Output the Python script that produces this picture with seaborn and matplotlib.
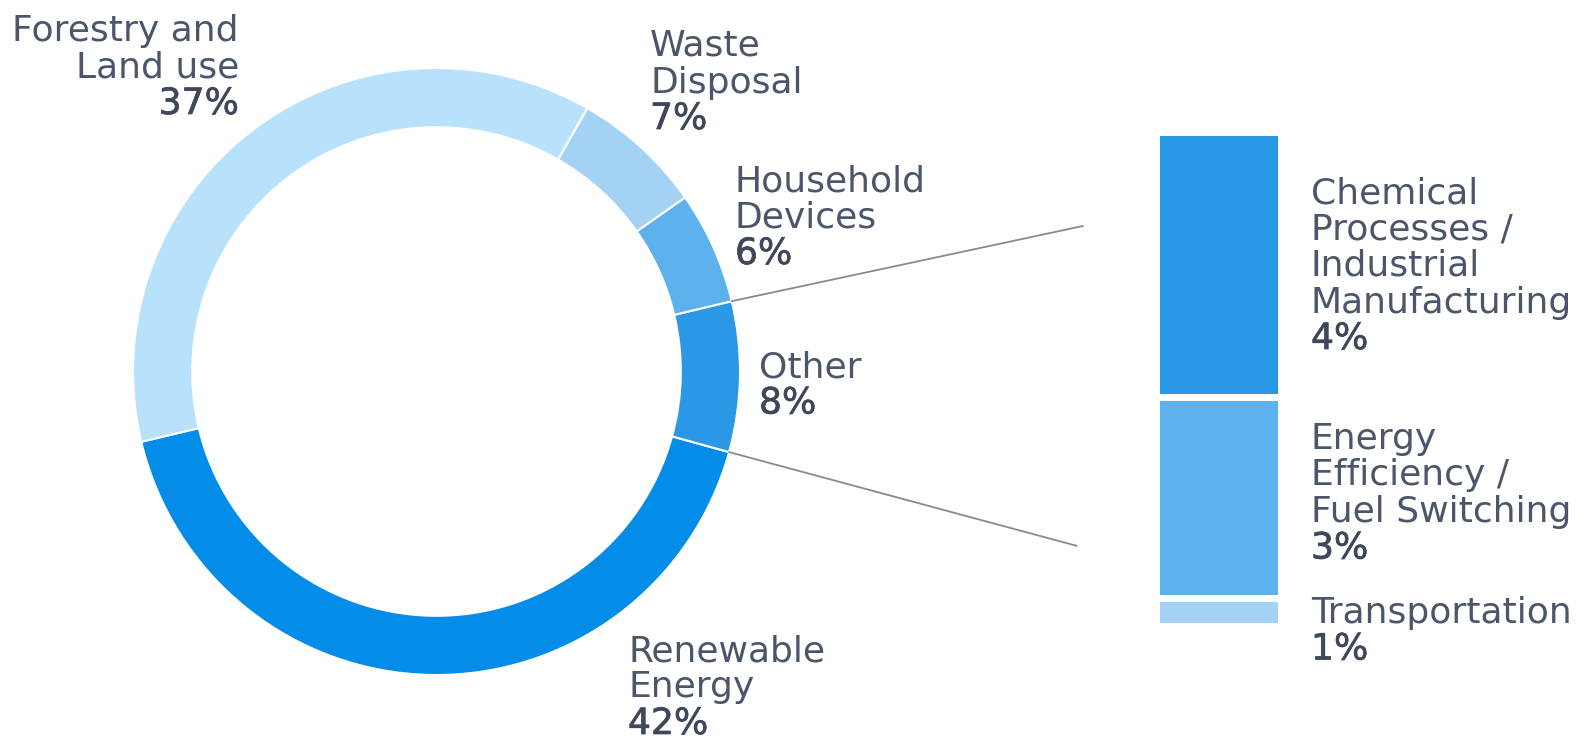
import numpy as np
import matplotlib
matplotlib.use("Agg")
import matplotlib.pyplot as plt
import matplotlib.patheffects as pe
from matplotlib.patches import ConnectionPatch
import seaborn as sns

# donut slices, counter-clockwise from the lower left
donut_labels = ["Renewable\nEnergy", "Other", "Household\nDevices", "Waste\nDisposal", "Forestry and\nLand use"]
donut_values = [42, 8, 6, 7, 37]
donut_pct = ["42%", "8%", "6%", "7%", "37%"]
donut_colors = ["#038CE8", "#2B98E6", "#5DB2EE", "#A4D2F4", "#B8E1FB"]

# breakdown of "Other", top to bottom
other_labels = ["Chemical\nProcesses /\nIndustrial\nManufacturing", "Energy\nEfficiency /\nFuel Switching", "Transportation"]
other_values = [4.3, 3.25, 0.45]
other_pct = ["4%", "3%", "1%"]
other_colors = ["#2B98E6", "#5DB2EE", "#A4D2F4"]

sns.set_theme(style="white")
plt.rcParams["font.family"] = ["DejaVu Sans"]

W, H = 1585, 741
fig = plt.figure(figsize=(W / 100, H / 100), dpi=100)

TXT = "#4B566A"
PCT = "#3E485A"
FS = 26
STEP = 36.5


def px_box(left, top, w, h):
    return [left / W, (H - top - h) / H, w / W, h / H]


# overlay for the labels, in pixel units
ax_txt = fig.add_axes([0, 0, 1, 1])
ax_txt.set_xlim(0, W)
ax_txt.set_ylim(H, 0)
ax_txt.axis("off")


def label(x, y, text, pct, ha="left"):
    lines = text.split("\n")
    for i, line in enumerate(lines):
        ax_txt.text(x, y + i * STEP, line, ha=ha, va="baseline", fontsize=FS, color=TXT)
    # percentages are a touch heavier than the names
    ax_txt.text(x, y + len(lines) * STEP, pct, ha=ha, va="baseline", fontsize=FS, color=PCT,
                path_effects=[pe.withStroke(linewidth=0.5, foreground=PCT)])


# donut
ax_pie = fig.add_axes(px_box(133, 68, 607, 607))
start = 193.4
ax_pie.pie(donut_values, colors=donut_colors, startangle=start, counterclock=True, radius=1,
           wedgeprops=dict(width=0.195, edgecolor="white", linewidth=1.5))
ax_pie.set_xlim(-1, 1)
ax_pie.set_ylim(-1, 1)
ax_pie.set_aspect("equal")
ax_pie.axis("off")

# stacked bar for "Other"
ax_bar = fig.add_axes(px_box(1155.5, 131.5, 125, 494))
bottoms = np.cumsum([0] + other_values[::-1][:-1])[::-1]
ax_bar.bar(0, other_values, bottom=bottoms, width=1, color=other_colors,
           edgecolor="white", linewidth=5)
ax_bar.set_xlim(-0.5, 0.5)
ax_bar.set_ylim(0, sum(other_values))
ax_bar.axis("off")

# connector lines from the edges of the "Other" wedge
cum = np.cumsum(donut_values)
theta_lo = np.deg2rad(start + 360 * cum[0] / 100)
theta_hi = np.deg2rad(start + 360 * cum[1] / 100)
for theta, end in [(theta_hi, (-1.08, 6.47)), (theta_lo, (-1.13, 1.29))]:
    con = ConnectionPatch(xyA=(np.cos(theta), np.sin(theta)), coordsA=ax_pie.transData,
                          xyB=end, coordsB=ax_bar.transData, color="#8A8A8A", lw=1.3)
    fig.add_artist(con)

# donut labels
label(628, 661, donut_labels[0], donut_pct[0])
label(759, 377, donut_labels[1], donut_pct[1])
label(735, 191, donut_labels[2], donut_pct[2])
label(650, 56, donut_labels[3], donut_pct[3])
label(239, 41, donut_labels[4], donut_pct[4], ha="right")

# bar labels
label(1311, 203, other_labels[0], other_pct[0])
label(1311, 449, other_labels[1], other_pct[1])
label(1311, 623, other_labels[2], other_pct[2])

fig.savefig("out.png", dpi=100, facecolor="white")
plt.close(fig)
